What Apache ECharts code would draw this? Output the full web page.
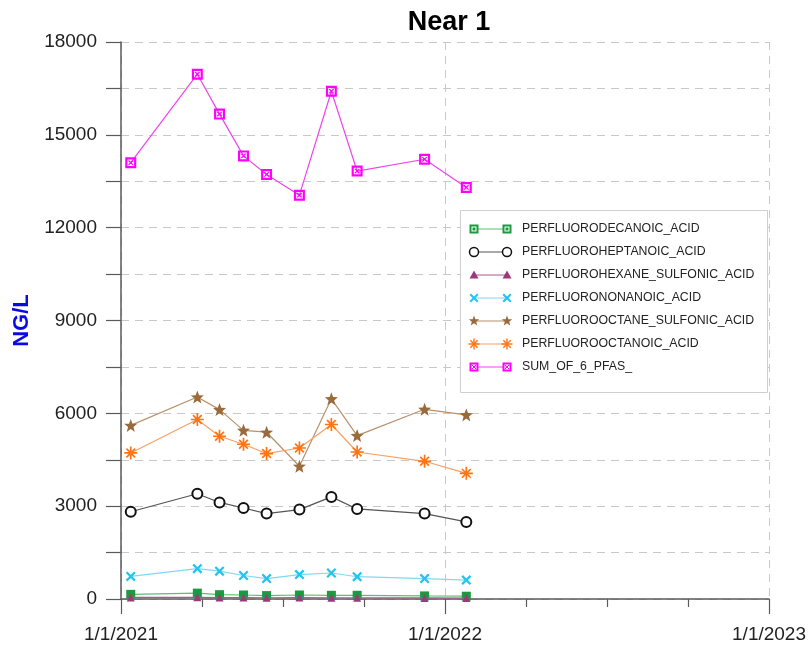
<!DOCTYPE html>
<html>
<head>
<meta charset="utf-8">
<script src="https://cdn.jsdelivr.net/npm/echarts@6/dist/echarts.min.js"></script>
<style>
  html, body { margin: 0; padding: 0; background: #fff; }
  #chart { width: 809px; height: 650px; }
</style>
</head>
<body>
<div id="chart"></div>
<script>
// Sampling dates and concentrations (NG/L)
const sampleDates = ['2021-01-12', '2021-03-28', '2021-04-22', '2021-05-19', '2021-06-14',
                     '2021-07-21', '2021-08-26', '2021-09-24', '2021-12-09', '2022-01-25'];
const pfda  = [150, 190, 140, 130, 110, 130, 120, 120, 100, 90];
const pfhpa = [2820, 3400, 3120, 2940, 2760, 2890, 3300, 2910, 2760, 2490];
const pfhxs = [50, 55, 45, 45, 40, 45, 40, 40, 35, 30];
const pfna  = [730, 980, 900, 760, 660, 790, 840, 720, 660, 610];
const pfos  = [5610, 6530, 6120, 5450, 5390, 4290, 6470, 5280, 6130, 5950];
const pfoa  = [4720, 5800, 5260, 5000, 4700, 4880, 5640, 4750, 4450, 4060];
const sum6  = [14100, 16960, 15670, 14320, 13720, 13050, 16410, 13830, 14210, 13300];

const seriesNames = ['PERFLUORODECANOIC_ACID', 'PERFLUOROHEPTANOIC_ACID', 'PERFLUOROHEXANE_SULFONIC_ACID',
                     'PERFLUORONONANOIC_ACID', 'PERFLUOROOCTANE_SULFONIC_ACID', 'PERFLUOROOCTANOIC_ACID',
                     'SUM_OF_6_PFAS_'];
const seriesValues = [pfda, pfhpa, pfhxs, pfna, pfos, pfoa, sum6];

const xTickLabels = ['1/1/2021', '1/1/2022', '1/1/2023'];
const yTickStep = 3000;

// Axis start date; x values are days since this date
const origin = Date.UTC(2021, 0, 1);
const DAY = 86400000;
const dayOf = s => (Date.parse(s + 'T00:00:00Z') - origin) / DAY;

// Marker outlines as polygons in a 10x10 box
const POLY = {
  sq:   [[[0, 0], [10, 0], [10, 10], [0, 10]]],
  tri:  [[[5, 0], [10, 9], [0, 9]]],
  x:    [[[0, 1.6], [1.6, 0], [10, 8.4], [8.4, 10]], [[8.4, 0], [10, 1.6], [1.6, 10], [0, 8.4]]],
  star: [[[5, 0], [6.25, 3.3], [9.76, 3.45], [7, 5.65], [7.94, 9.05], [5, 7.1], [2.06, 9.05], [3, 5.65], [0.24, 3.45], [3.75, 3.3]]],
  ast:  [[[4.35, 0], [5.65, 0], [5.65, 10], [4.35, 10]], [[0, 4.35], [10, 4.35], [10, 5.65], [0, 5.65]],
         [[1.2, 2.1], [2.1, 1.2], [8.8, 7.9], [7.9, 8.8]], [[7.9, 1.2], [8.8, 2.1], [2.1, 8.8], [1.2, 7.9]]]
};
const toPath = polys => 'path://' + polys.map(p => 'M' + p.map(q => q.join(' ')).join('L') + 'Z').join(' ');
// Hollow square with a cross inside
const SQX_PATH = 'path://M0 0L10 0L10 10L0 10Z M2 2L2 8L8 8L8 2Z M2.6 3.4L3.4 2.6L7.4 6.6L6.6 7.4Z M6.6 2.6L7.4 3.4L3.4 7.4L2.6 6.6Z';

const styles = [
  { shape: 'sq',   size: 9,  mark: '#1b9a40', line: '#5cbf6e' },
  { shape: 'circ', size: 10, mark: '#111111', line: '#555555' },
  { shape: 'tri',  size: 8,  mark: '#9a3a7c', line: '#a8588e' },
  { shape: 'x',    size: 10, mark: '#22c4f0', line: '#80d8f4' },
  { shape: 'star', size: 13, mark: '#9a6a3a', line: '#b8916a' },
  { shape: 'ast',  size: 13, mark: '#ff7412', line: '#f6a066' },
  { shape: 'sqx',  size: 11, mark: '#ff00ff', line: '#ee44ee' }
];

function seriesSymbol(shape) {
  if (shape === 'circ') return 'emptyCircle';
  if (shape === 'sqx') return SQX_PATH;
  return toPath(POLY[shape]);
}

const series = seriesNames.map((name, i) => {
  const st = styles[i];
  const isCirc = st.shape === 'circ';
  return {
    name,
    type: 'line',
    data: sampleDates.map((d, k) => [dayOf(d), seriesValues[i][k]]),
    symbol: seriesSymbol(st.shape),
    symbolSize: st.size,
    showAllSymbol: true,
    lineStyle: { color: st.line, width: 1.2 },
    itemStyle: isCirc
      ? { color: st.mark, borderColor: st.mark, borderWidth: 1.5 }
      : { color: st.mark, borderWidth: 0 },
    emphasis: { disabled: true },
    animation: false,
    z: 3 + i
  };
});

// Legend marker built from graphic primitives
function legendMarker(st, cx, cy) {
  const s = Math.max(st.size - 2, 9);
  const x0 = cx - s / 2, y0 = cy - s / 2, k = s / 10;
  if (st.shape === 'circ') {
    return [{ type: 'circle', shape: { cx, cy, r: s / 2 }, style: { fill: '#ffffff', stroke: st.mark, lineWidth: 1.5 }, z: 12 }];
  }
  if (st.shape === 'sqx') {
    const inset = 1;
    return [
      { type: 'rect', shape: { x: x0 + inset, y: y0 + inset, width: s - 2 * inset, height: s - 2 * inset },
        style: { fill: '#ffffff', stroke: st.mark, lineWidth: 2 }, z: 12 },
      { type: 'line', shape: { x1: x0 + 2.8 * k, y1: y0 + 2.8 * k, x2: x0 + 7.2 * k, y2: y0 + 7.2 * k },
        style: { stroke: st.mark, lineWidth: 1 }, z: 13 },
      { type: 'line', shape: { x1: x0 + 7.2 * k, y1: y0 + 2.8 * k, x2: x0 + 2.8 * k, y2: y0 + 7.2 * k },
        style: { stroke: st.mark, lineWidth: 1 }, z: 13 }
    ];
  }
  if (st.shape === 'sq') {
    return [
      { type: 'rect', shape: { x: x0 + 1, y: y0 + 1, width: s - 2, height: s - 2 },
        style: { fill: '#ffffff', stroke: st.mark, lineWidth: 2 }, z: 12 },
      { type: 'rect', shape: { x: cx - 1.5, y: cy - 1.5, width: 3, height: 3 },
        style: { fill: st.mark }, z: 13 }
    ];
  }
  return POLY[st.shape].map(p => ({
    type: 'polygon',
    shape: { points: p.map(q => [x0 + q[0] * k, y0 + q[1] * k]) },
    style: { fill: st.mark }, z: 12
  }));
}

// Legend panel: a line with a marker at each end, then the series name
const legendBox = { x: 460, y: 210, w: 307, h: 182, row0: 229, rowStep: 23, lx0: 474, lx1: 507, tx: 522 };
const legendEls = [{
  type: 'rect',
  shape: { x: legendBox.x + 0.5, y: legendBox.y + 0.5, width: legendBox.w, height: legendBox.h },
  style: { fill: '#ffffff', stroke: '#cfcfcf', lineWidth: 1 },
  z: 10
}];
seriesNames.forEach((name, i) => {
  const st = styles[i];
  const cy = legendBox.row0 + i * legendBox.rowStep;
  legendEls.push({
    type: 'line',
    shape: { x1: legendBox.lx0, y1: cy, x2: legendBox.lx1, y2: cy },
    style: { stroke: st.line, lineWidth: 1.2 },
    z: 11
  });
  legendEls.push(...legendMarker(st, legendBox.lx0, cy), ...legendMarker(st, legendBox.lx1, cy));
  legendEls.push({
    type: 'text', x: legendBox.tx, y: cy,
    style: { text: name, fill: '#222222', font: '12.3px "Liberation Sans", Arial, sans-serif', verticalAlign: 'middle' },
    z: 12
  });
});

const gridLine = { show: true, lineStyle: { color: '#c8c8c8', type: [8, 6], width: 1 } };
const axisInk = '#5a5a5a';

const option = {
  backgroundColor: '#ffffff',
  animation: false,
  title: {
    text: 'Near 1',
    left: 444, top: 4, textAlign: 'center',
    textStyle: { fontFamily: '"Liberation Sans", Arial, sans-serif', fontWeight: 'bold', fontSize: 27, color: '#000' }
  },
  grid: { left: 121, right: 38, top: 42, bottom: 51 },
  xAxis: {
    type: 'value',
    min: 0, max: 730, interval: 365,
    axisLine: { show: true, lineStyle: { color: axisInk, width: 1.5 } },
    axisTick: { show: true, length: 15, lineStyle: { color: axisInk, width: 1.2 } },
    minorTick: { show: true, splitNumber: 4, length: 8, lineStyle: { color: axisInk, width: 1.2 } },
    splitLine: gridLine,
    axisLabel: {
      margin: 26,
      fontSize: 19, color: '#222',
      fontFamily: '"Liberation Sans", Arial, sans-serif',
      formatter: v => xTickLabels[Math.round(v / 365)] || ''
    }
  },
  yAxis: {
    type: 'value',
    min: 0, max: 18000, interval: 1500,
    name: 'NG/L',
    nameLocation: 'middle', nameRotate: 90, nameGap: 82,
    nameTextStyle: { color: '#0a0ae6', fontWeight: 'bold', fontSize: 22, fontFamily: '"Liberation Sans", Arial, sans-serif' },
    axisLine: { show: true, lineStyle: { color: axisInk, width: 1.5 } },
    axisTick: { show: true, length: 15, lineStyle: { color: axisInk, width: 1.2 } },
    splitLine: gridLine,
    axisLabel: {
      margin: 24,
      fontSize: 19, color: '#222',
      fontFamily: '"Liberation Sans", Arial, sans-serif',
      formatter: v => (v % yTickStep === 0 ? String(v) : '')
    }
  },
  series,
  graphic: legendEls
};

const chart = echarts.init(document.getElementById('chart'), null, { renderer: 'canvas' });
chart.setOption(option);
</script>
</body>
</html>
